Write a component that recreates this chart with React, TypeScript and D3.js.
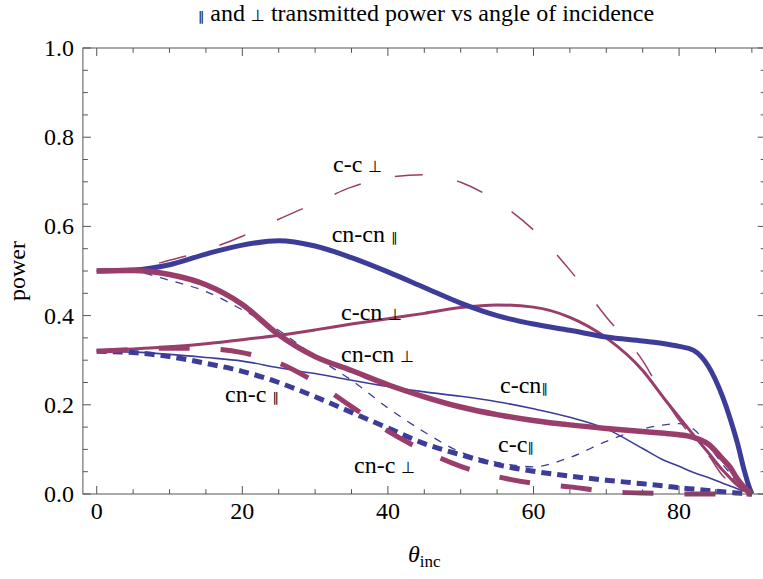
import React from 'react';
import * as d3 from 'd3';

// angle of incidence (degrees)
const angles = [0, 5, 10, 15, 20, 25, 30, 35, 40, 45, 50, 55, 60, 65, 70, 75, 78, 80, 82, 84, 86, 87, 88, 89, 89.5, 90];

// transmitted power for each configuration / polarisation
const cCPar = [0.5, 0.498, 0.479, 0.454, 0.413, 0.367, 0.308, 0.255, 0.193, 0.139, 0.094, 0.071, 0.061, 0.082, 0.118, 0.146, 0.155, 0.158, 0.145, 0.11, 0.066, 0.046, 0.02, 0.007, 0.003, 0];
const cCPerp = [0.5, 0.505, 0.524, 0.547, 0.578, 0.616, 0.652, 0.688, 0.71, 0.716, 0.699, 0.656, 0.592, 0.502, 0.397, 0.299, 0.215, 0.165, 0.125, 0.088, 0.041, 0.027, 0.016, 0.007, 0.003, 0];
const cCnPar = [0.32, 0.318, 0.313, 0.306, 0.298, 0.283, 0.27, 0.255, 0.241, 0.229, 0.219, 0.207, 0.191, 0.172, 0.146, 0.102, 0.075, 0.062, 0.048, 0.037, 0.024, 0.018, 0.012, 0.006, 0.003, 0];
const cCnPerp = [0.321, 0.325, 0.33, 0.337, 0.346, 0.356, 0.368, 0.381, 0.393, 0.405, 0.418, 0.424, 0.419, 0.396, 0.35, 0.277, 0.213, 0.172, 0.132, 0.093, 0.053, 0.036, 0.02, 0.008, 0.003, 0];
const cnCPar = [0.32, 0.317, 0.308, 0.293, 0.275, 0.25, 0.218, 0.183, 0.148, 0.113, 0.088, 0.066, 0.051, 0.04, 0.031, 0.023, 0.018, 0.014, 0.011, 0.008, 0.005, 0.004, 0.002, 0.001, 0, 0];
const cnCPerp = [0.32, 0.324, 0.327, 0.326, 0.317, 0.294, 0.251, 0.196, 0.141, 0.097, 0.062, 0.039, 0.024, 0.016, 0.006, 0.002, 0.001, 0, 0, 0, 0, 0, 0, 0, 0, 0];
const cnCnPar = [0.5, 0.502, 0.514, 0.538, 0.558, 0.568, 0.556, 0.53, 0.498, 0.463, 0.428, 0.4, 0.381, 0.367, 0.352, 0.343, 0.337, 0.331, 0.322, 0.287, 0.217, 0.17, 0.115, 0.05, 0.022, 0];
const cnCnPerp = [0.5, 0.501, 0.492, 0.469, 0.425, 0.357, 0.308, 0.277, 0.245, 0.218, 0.195, 0.178, 0.165, 0.155, 0.147, 0.14, 0.136, 0.133, 0.127, 0.112, 0.078, 0.06, 0.034, 0.014, 0.006, 0];

const xMajorTicks = [0, 20, 40, 60, 80];
const yMajorTicks = [0, 0.2, 0.4, 0.6, 0.8, 1.0];

// curve labels: text, symbol, anchor (angle, power)
const labelTexts = ['c-c ', 'cn-cn ', 'c-cn ', 'cn-cn ', 'cn-c ', 'cn-c ', 'c-cn', 'c-c'];
const labelSymbols = ['⊥', '∥', '⊥', '⊥', '∥', '⊥', '∥', '∥'];
const labelAngles = [32.46, 32.28, 33.56, 33.56, 17.63, 35.35, 55.4, 55.13];
const labelPowers = [0.723, 0.564, 0.39, 0.2966, 0.207, 0.0464, 0.227, 0.0948];

const BLUE = '#3d3d99';
const PURPLE = '#993d6b';

const series = [
  { values: cCPar, color: BLUE, width: 1.3, dash: '8 8' },
  { values: cCPerp, color: PURPLE, width: 1.5, dash: '28 35' },
  { values: cCnPar, color: BLUE, width: 1.6, dash: null },
  { values: cCnPerp, color: PURPLE, width: 3, dash: null },
  { values: cnCPar, color: BLUE, width: 5, dash: '10 6' },
  { values: cnCPerp, color: PURPLE, width: 5, dash: '31 31' },
  { values: cnCnPar, color: BLUE, width: 5, dash: null },
  { values: cnCnPerp, color: PURPLE, width: 5.5, dash: null },
];

const W = 763;
const H = 579;
const FONT = '"Liberation Serif", "Times New Roman", serif';
const SYM = '"DejaVu Sans", sans-serif';
const FRAME = '#555555';

export default function App() {
  const x = d3.scaleLinear().domain([-1.9, 91.9]).range([82.9, 765.7]);
  const y = d3.scaleLinear().domain([0, 1]).range([494, 48]);
  const [x0, x1] = x.range();
  const [yb, yt] = y.range();

  const line = d3
    .line<number>()
    .x((_, i) => x(angles[i]))
    .y((d) => y(d))
    .curve(d3.curveMonotoneX);

  const xMinor = d3.range(0, 90.001, 5).filter((v) => !xMajorTicks.includes(v));
  const yMinor = d3.range(0, 1.0001, 0.05).filter((v) => !yMajorTicks.some((m) => Math.abs(m - v) < 1e-6));

  return (
    <svg width={W} height={H} style={{ position: 'absolute', left: 0, top: 0, background: '#fff' }} fontFamily={FONT}>
      <rect x={0} y={0} width={W} height={H} fill="#fff" />
      {/* title */}
      <text x={426} y={21} textAnchor="middle" fontSize={24} fill="#000">
        <tspan fontFamily={SYM} fontSize={13}>∥</tspan>
        <tspan> and </tspan>
        <tspan fontFamily={SYM} fontSize={16}>⊥</tspan>
        <tspan> transmitted power vs angle of incidence</tspan>
      </text>

      {/* curves */}
      <g fill="none">
        {series.map((s, i) => (
          <path
            key={i}
            d={line(s.values) || ''}
            stroke={s.color}
            strokeWidth={s.width}
            strokeDasharray={s.dash || undefined}
            strokeLinejoin="round"
          />
        ))}
      </g>

      {/* frame */}
      <rect x={x0} y={yt} width={x1 - x0} height={yb - yt} fill="none" stroke={FRAME} strokeWidth={1} />

      {/* x ticks */}
      <g stroke={FRAME} strokeWidth={1}>
        {xMajorTicks.map((t) => (
          <g key={'xM' + t}>
            <line x1={x(t)} x2={x(t)} y1={yb} y2={yb - 8} />
            <line x1={x(t)} x2={x(t)} y1={yt} y2={yt + 8} />
          </g>
        ))}
        {xMinor.map((t) => (
          <g key={'xm' + t}>
            <line x1={x(t)} x2={x(t)} y1={yb} y2={yb - 4.8} />
            <line x1={x(t)} x2={x(t)} y1={yt} y2={yt + 4.8} />
          </g>
        ))}
        {yMajorTicks.map((t) => (
          <g key={'yM' + t}>
            <line x1={x0} x2={x0 + 8} y1={y(t)} y2={y(t)} />
            <line x1={x1} x2={x1 - 8} y1={y(t)} y2={y(t)} />
          </g>
        ))}
        {yMinor.map((t) => (
          <g key={'ym' + t}>
            <line x1={x0} x2={x0 + 5} y1={y(t)} y2={y(t)} />
            <line x1={x1} x2={x1 - 5} y1={y(t)} y2={y(t)} />
          </g>
        ))}
      </g>

      {/* tick labels */}
      <g fontSize={24} fill="#000">
        {xMajorTicks.map((t) => (
          <text key={'xl' + t} x={x(t)} y={yb + 24.5} textAnchor="middle">
            {String(t)}
          </text>
        ))}
        {yMajorTicks.map((t) => (
          <text key={'yl' + t} x={74} y={y(t) + 8} textAnchor="end">
            {t.toFixed(1)}
          </text>
        ))}
      </g>

      {/* axis labels */}
      <text x={0} y={0} fontSize={24} textAnchor="middle" transform={`translate(24.5, ${(yb + yt) / 2}) rotate(-90)`}>
        power
      </text>
      <text x={(x0 + x1) / 2} y={562} fontSize={24} textAnchor="middle">
        <tspan fontStyle="italic">θ</tspan>
        <tspan fontSize={17} dy={5}>inc</tspan>
      </text>

      {/* curve labels */}
      <g fontSize={24} fill="#000">
        {labelTexts.map((t, i) => (
          <text key={'lab' + i} x={x(labelAngles[i])} y={y(labelPowers[i])}>
            <tspan>{t}</tspan>
            <tspan fontFamily={SYM} fontSize={labelSymbols[i] === '∥' ? 13 : 16}>{labelSymbols[i]}</tspan>
          </text>
        ))}
      </g>
    </svg>
  );
}
